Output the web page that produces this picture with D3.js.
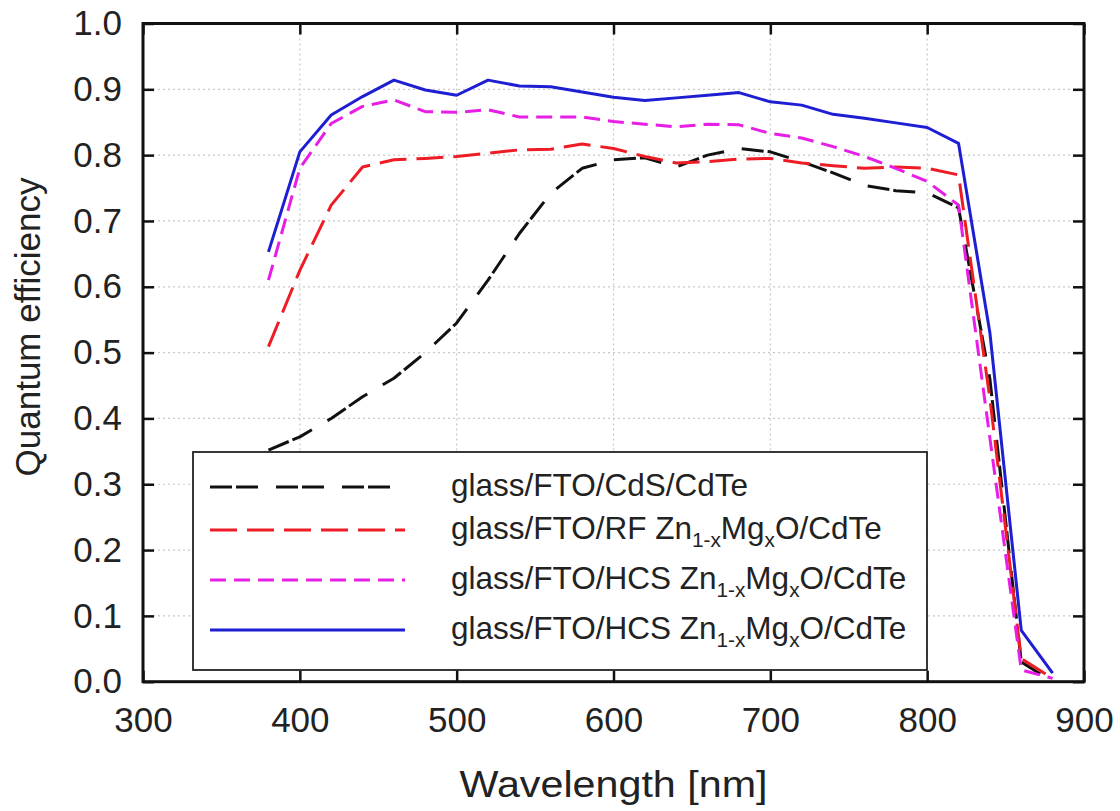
<!DOCTYPE html>
<html>
<head>
<meta charset="utf-8">
<script src="https://cdn.jsdelivr.net/npm/d3@7"></script>
<style>
  html, body { margin: 0; padding: 0; background: #fff; }
  svg { display: block; font-family: "Liberation Sans", Arial, Helvetica, sans-serif; }
</style>
</head>
<body>
<svg id="chart" width="1120" height="811"></svg>
<script>
// Wavelength grid (nm)
const wavelengths = [380, 400, 420, 440, 460, 480, 500, 520, 540, 560, 580, 600, 620,
                     640, 660, 680, 700, 720, 740, 760, 780, 800, 820, 840, 860, 880];

// Quantum efficiency of each device stack
const qeCdS = [0.352, 0.372, 0.400, 0.433, 0.461, 0.500, 0.545, 0.610, 0.681, 0.742, 0.780, 0.793, 0.796,
               0.782, 0.800, 0.810, 0.805, 0.790, 0.773, 0.754, 0.746, 0.743, 0.720, 0.460, 0.030, 0.000];
const qeRF = [0.509, 0.625, 0.724, 0.782, 0.793, 0.795, 0.798, 0.803, 0.808, 0.809, 0.817, 0.810, 0.798,
              0.788, 0.790, 0.794, 0.795, 0.788, 0.784, 0.780, 0.782, 0.780, 0.770, 0.430, 0.035, 0.005];
const qeHCSa = [0.610, 0.780, 0.848, 0.874, 0.884, 0.866, 0.865, 0.869, 0.858, 0.858, 0.858, 0.851, 0.847,
                0.843, 0.847, 0.846, 0.833, 0.826, 0.813, 0.798, 0.780, 0.760, 0.724, 0.370, 0.018, 0.005];
const qeHCSb = [0.653, 0.805, 0.861, 0.889, 0.914, 0.899, 0.891, 0.914, 0.905, 0.904, 0.896, 0.888, 0.883,
                0.887, 0.891, 0.895, 0.881, 0.876, 0.862, 0.856, 0.849, 0.842, 0.818, 0.530, 0.078, 0.013];

// Legend labels; "_{...}" marks a subscript
const seriesLabels = [
  "glass/FTO/CdS/CdTe",
  "glass/FTO/RF Zn_{1-x}Mg_{x}O/CdTe",
  "glass/FTO/HCS Zn_{1-x}Mg_{x}O/CdTe",
  "glass/FTO/HCS Zn_{1-x}Mg_{x}O/CdTe"
];

// Axis ticks
const xTicks = [300, 400, 500, 600, 700, 800, 900];
const yTicks = [0, 0.1, 0.2, 0.3, 0.4, 0.5, 0.6, 0.7, 0.8, 0.9, 1.0];

const xTitle = "Wavelength [nm]";
const yTitle = "Quantum efficiency";

const series = [
  { values: qeCdS,  color: "#111111", dash: "22,4,22,18", label: seriesLabels[0] },
  { values: qeRF,   color: "#ee1c24", dash: "27,10",      label: seriesLabels[1] },
  { values: qeHCSa, color: "#e61ee6", dash: "16,8",       label: seriesLabels[2] },
  { values: qeHCSb, color: "#1e1ed2", dash: null,         label: seriesLabels[3] }
];

const svg = d3.select("#chart");
const plotLeft = 143, plotRight = 1084, plotTop = 23.5, plotBottom = 681.7;

const x = d3.scaleLinear().domain([300, 900]).range([plotLeft, plotRight]);
const y = d3.scaleLinear().domain([0, 1]).range([plotBottom, plotTop]);

// Dotted grid
const grid = svg.append("g").attr("stroke", "#c8c8c8").attr("stroke-width", 1.2)
  .attr("stroke-dasharray", "2,3");
grid.selectAll("line.v").data(xTicks.slice(1, -1)).join("line").attr("class", "v")
  .attr("x1", d => x(d)).attr("x2", d => x(d)).attr("y1", plotTop).attr("y2", plotBottom);
grid.selectAll("line.h").data(yTicks.slice(1, -1)).join("line").attr("class", "h")
  .attr("x1", plotLeft).attr("x2", plotRight).attr("y1", d => y(d)).attr("y2", d => y(d));

// Curves
const line = d3.line().x((d, i) => x(wavelengths[i])).y(d => y(d));
const curves = svg.append("g").attr("fill", "none");
series.forEach(s => {
  curves.append("path")
    .datum(s.values)
    .attr("d", line)
    .attr("stroke", s.color)
    .attr("stroke-width", 3)
    .attr("stroke-linejoin", "round")
    .attr("stroke-dasharray", s.dash);
});

// Axes with inward ticks
const fontSize = 35;
const styleAxis = g => {
  g.select(".domain").remove();
  g.selectAll(".tick line").attr("stroke", "#111").attr("stroke-width", 2.5);
  g.selectAll(".tick text").attr("fill", "#222").attr("font-size", fontSize)
    .attr("font-family", "Liberation Sans, Arial, sans-serif");
};

svg.append("g").attr("transform", `translate(0,${plotBottom})`)
  .call(d3.axisBottom(x).tickValues(xTicks).tickFormat(d3.format("d"))
    .tickSizeInner(-11).tickSizeOuter(0).tickPadding(25))
  .call(styleAxis);
svg.append("g").attr("transform", `translate(0,${plotTop})`)
  .call(d3.axisTop(x).tickValues(xTicks).tickFormat("").tickSizeInner(-11).tickSizeOuter(0))
  .call(styleAxis);
svg.append("g").attr("transform", `translate(${plotLeft},0)`)
  .call(d3.axisLeft(y).tickValues(yTicks).tickFormat(d3.format(".1f"))
    .tickSizeInner(-11).tickSizeOuter(0).tickPadding(21))
  .call(styleAxis);
svg.append("g").attr("transform", `translate(${plotRight},0)`)
  .call(d3.axisRight(y).tickValues(yTicks).tickFormat("").tickSizeInner(-11).tickSizeOuter(0))
  .call(styleAxis);

// Plot frame
svg.append("rect")
  .attr("x", plotLeft).attr("y", plotTop)
  .attr("width", plotRight - plotLeft).attr("height", plotBottom - plotTop)
  .attr("fill", "none").attr("stroke", "#111").attr("stroke-width", 3);

// Axis titles
svg.append("text")
  .attr("x", (plotLeft + plotRight) / 2).attr("y", 797)
  .attr("text-anchor", "middle").attr("font-size", 37).attr("fill", "#222")
  .attr("textLength", 308).attr("lengthAdjust", "spacingAndGlyphs")
  .text(xTitle);
svg.append("text")
  .attr("transform", "translate(40,327) rotate(-90)")
  .attr("text-anchor", "middle").attr("font-size", 35).attr("fill", "#222")
  .text(yTitle);

// Legend
const lg = svg.append("g");
lg.append("rect")
  .attr("x", 193).attr("y", 452).attr("width", 734).attr("height", 218)
  .attr("fill", "#fff").attr("stroke", "#222").attr("stroke-width", 1.8);

const rowY = [487, 530, 580, 630];
const legendFont = 31.5;

function addRichText(sel, str) {
  const parts = str.split(/(_\{[^}]*\})/).filter(p => p.length);
  let shifted = false;
  parts.forEach(p => {
    const m = p.match(/^_\{([^}]*)\}$/);
    if (m) {
      sel.append("tspan").attr("font-size", legendFont * 0.66).attr("dy", 8).text(m[1]);
      shifted = true;
    } else {
      sel.append("tspan").attr("font-size", legendFont).attr("dy", shifted ? -8 : 0).text(p);
      shifted = false;
    }
  });
}

series.forEach((s, i) => {
  lg.append("line")
    .attr("x1", 210).attr("x2", 405)
    .attr("y1", rowY[i]).attr("y2", rowY[i])
    .attr("stroke", s.color).attr("stroke-width", 3)
    .attr("stroke-dasharray", s.dash);
  const t = lg.append("text")
    .attr("x", 451).attr("y", rowY[i] + 9)
    .attr("fill", "#222");
  addRichText(t, s.label);
});
</script>
</body>
</html>
